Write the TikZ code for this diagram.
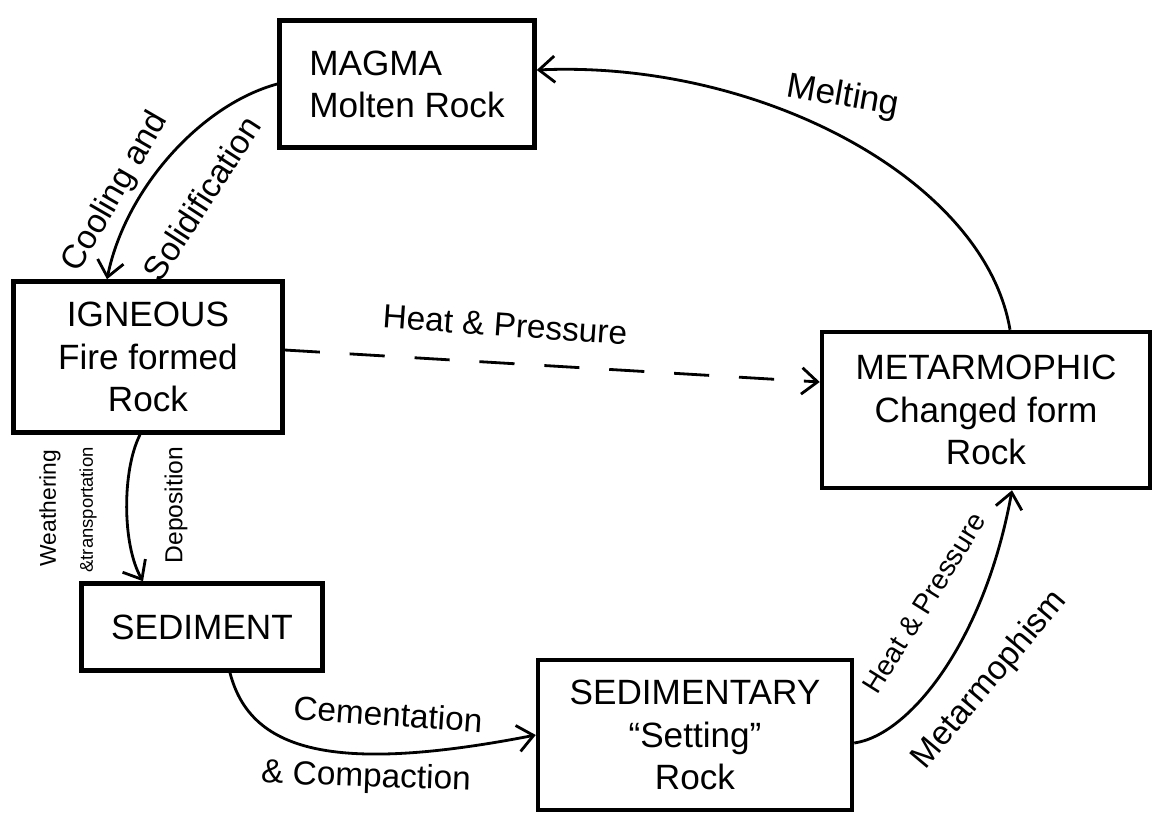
\documentclass[tikz,border=0pt]{standalone}
\usepackage{fontspec}
\setmainfont{Liberation Sans}
\usetikzlibrary{arrows.meta,calc}

\begin{document}
\begin{tikzpicture}[x=0.02cm,y=-0.02cm,
  rockbox/.style={draw,line width=2.6pt,rectangle,inner sep=2pt,font=\fontsize{20}{24}\selectfont},
  flow/.style={line width=1.6pt,-{Straight Barb[length=9pt,width=15pt,line width=1.6pt]}},
  lbl/.style={font=\fontsize{19}{22}\selectfont,inner sep=0pt},
  smalllbl/.style={font=\fontsize{13}{15}\selectfont,inner sep=0pt}]
\useasboundingbox (0,0) rectangle (1153,825);

\node[rockbox,minimum width=5.1cm,minimum height=2.54cm,align=left] (magma) at (407,84) {MAGMA\\Molten Rock};
\node[rockbox,minimum width=5.38cm,minimum height=3.02cm,align=center] (igneous) at (148,357) {IGNEOUS\\Fire formed\\Rock};
\node[rockbox,minimum width=6.56cm,minimum height=3.12cm,align=center] (meta) at (986,410) {METARMOPHIC\\Changed form\\Rock};
\node[rockbox,minimum width=4.82cm,minimum height=1.74cm] (sediment) at (202,627) {SEDIMENT};
\node[rockbox,minimum width=6.28cm,minimum height=3.0cm,align=center] (sedimentary) at (695,735) {SEDIMENTARY\\``Setting''\\Rock};

\path[draw,flow] (magma.west) .. controls (200,105) and (125,190) .. ($(igneous.north)+(-41,0)$);
\path[draw,flow] ($(meta.north)+(24,0)$) .. controls (985,180) and (760,60) .. ($(magma.east)+(0,-14)$);
\path[draw,flow,dash pattern=on 20pt off 17pt] ($(igneous.east)+(0,-7)$) -- ($(meta.west)+(0,-28)$);
\path[draw,flow] ($(igneous.south)+(-8,0)$) .. controls (122,470) and (122,545) .. ($(sediment.north)+(-59,0)$);
\path[draw,flow] ($(sediment.south)+(28,0)$) .. controls (250,750) and (330,775) .. (sedimentary.west);
\path[draw,flow] ($(sedimentary.east)+(0,8)$) .. controls (910,735) and (985,640) .. ($(meta.south)+(26,0)$);

\node[lbl,font=\fontsize{20}{22}\selectfont,rotate=-10] (melting) at (843,97) {Melting};
\node[lbl,rotate=60] (cooling) at (116,192) {Cooling and};
\node[lbl,rotate=57] (solid) at (202,198) {Solidification};
\node[lbl,rotate=-4] (heat1) at (505,325) {Heat \& Pressure};
\node[smalllbl,rotate=90] (weather) at (50,508) {Weathering};
\node[smalllbl,font=\fontsize{10.5}{12}\selectfont,rotate=90] (transport) at (88,510) {\&transportation};
\node[smalllbl,font=\fontsize{14}{16}\selectfont,rotate=90] (depo) at (176,505) {Deposition};
\node[lbl,rotate=-4] (cement) at (388,714) {Cementation};
\node[lbl,rotate=-2] (compact) at (366,778) {\& Compaction};
\node[lbl,font=\fontsize{16}{18}\selectfont,rotate=58] (heat2) at (924,603) {Heat \& Pressure};
\node[lbl,rotate=50] (metam) at (990,680) {Metarmophism};
\end{tikzpicture}
\end{document}
